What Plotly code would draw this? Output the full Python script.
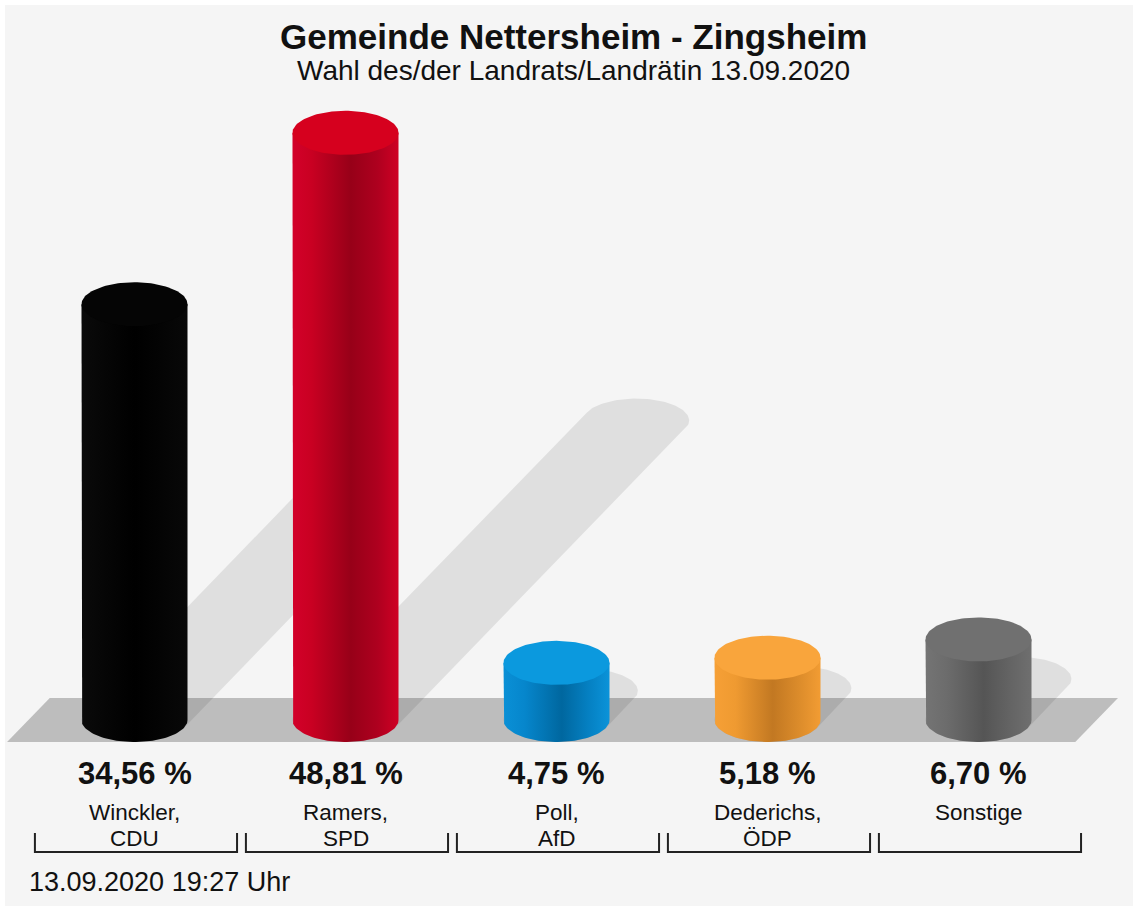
import numpy as np
import plotly.graph_objects as go

# ---------------- data ----------------
CANDIDATES = ["Winckler,", "Ramers,", "Poll,", "Dederichs,", "Sonstige"]
PARTIES = ["CDU", "SPD", "AfD", "ÖDP", ""]
VALUES = [34.56, 48.81, 4.75, 5.18, 6.70]
TITLE = "Gemeinde Nettersheim - Zingsheim"
SUBTITLE = "Wahl des/der Landrats/Landrätin 13.09.2020"
TIMESTAMP = "13.09.2020 19:27 Uhr"

# ---------------- styles ----------------
TOP_COLORS = ["#050505", "#d6001e", "#0b99de", "#f9a53c", "#707070"]
BODY_SCALES = [
    [[0, "#0a0a0a"], [0.5, "#000000"], [1, "#080808"]],
    [[0, "#d3002a"], [0.18, "#c90022"], [0.55, "#970018"], [0.8, "#ae001f"], [1, "#cf0024"]],
    [[0, "#0a90d6"], [0.2, "#0686cc"], [0.55, "#00679f"], [0.8, "#0580c2"], [1, "#0b93d9"]],
    [[0, "#f6a036"], [0.2, "#ef9a31"], [0.55, "#c27822"], [0.8, "#dc8c2b"], [1, "#f29c33"]],
    [[0, "#747474"], [0.2, "#6c6c6c"], [0.55, "#555555"], [0.8, "#646464"], [1, "#6f6f6f"]],
]
BG = "#f5f5f5"
FLOOR = "#bdbdbd"
SHADOW = "rgba(0,0,0,0.085)"
TEXT = "#111111"
FONT = "Liberation Sans, Arial, Helvetica, sans-serif"

# ---------------- geometry (pixel calibration) ----------------
W, H = 1133, 906
PX_X0, PX_STEP = 134.5, 211.0      # pixel x of first category, spacing
PX_BASE, PX_PER_PCT = 720.0, 12.03  # pixel y of 0 %, pixels per percent
x_range = [-PX_X0 / PX_STEP, (W - PX_X0) / PX_STEP]
y_range = [-(H - PX_BASE) / PX_PER_PCT, PX_BASE / PX_PER_PCT]

RX = 53.0 / PX_STEP
RY = 22.0 / PX_PER_PCT
SH_DX = 0.495 * PX_PER_PCT / PX_STEP  # shadow x shift per percent
SH_DY = 0.51                           # shadow y shift per percent


def ellipse(cx, cy, t):
    return cx + RX * np.cos(t), cy + RY * np.sin(t)


def hull(px, py):
    pts = sorted(set(zip(np.round(px, 6), np.round(py, 6))))

    def cross(o, a, b):
        return (a[0] - o[0]) * (b[1] - o[1]) - (a[1] - o[1]) * (b[0] - o[0])

    lower, upper = [], []
    for p in pts:
        while len(lower) >= 2 and cross(lower[-2], lower[-1], p) <= 0:
            lower.pop()
        lower.append(p)
    for p in reversed(pts):
        while len(upper) >= 2 and cross(upper[-2], upper[-1], p) <= 0:
            upper.pop()
        upper.append(p)
    h = lower[:-1] + upper[:-1]
    h.append(h[0])
    return [p[0] for p in h], [p[1] for p in h]


fig = go.Figure()
n = len(VALUES)
xs = list(range(n))

# floor band (skewed like the shadows)
skew = RY * SH_DX / SH_DY
left_b = xs[0] - 0.604
right_t = xs[-1] + 0.661
fx = [left_b, left_b + 2 * skew, right_t, right_t - 2 * skew]
fy = [-RY, RY, RY, -RY]
fig.add_trace(go.Scatter(x=fx + [fx[0]], y=fy + [fy[0]], mode="lines", fill="toself",
                         fillcolor=FLOOR, line=dict(width=0), hoverinfo="skip",
                         showlegend=False))

# shadows
t_full = np.linspace(0, 2 * np.pi, 121)
for i, v in zip(xs, VALUES):
    bx, by = ellipse(i, 0, t_full)
    tx, ty = ellipse(i + SH_DX * v, SH_DY * v, t_full)
    hx, hy = hull(np.concatenate([bx, tx]), np.concatenate([by, ty]))
    fig.add_trace(go.Scatter(x=hx, y=hy, mode="lines", fill="toself",
                             fillcolor=SHADOW, line=dict(width=0),
                             hoverinfo="skip", showlegend=False))

# cylinders
t_low = np.linspace(np.pi, 2 * np.pi, 60)
for i, v, top_c, scale in zip(xs, VALUES, TOP_COLORS, BODY_SCALES):
    ex, ey = ellipse(i, 0, t_low)
    bx = [i - RX] + list(ex) + [i + RX, i - RX]
    by = [v] + list(ey) + [v, v]
    fig.add_trace(go.Scatter(x=bx, y=by, mode="lines", fill="toself",
                             fillgradient=dict(type="horizontal", colorscale=scale),
                             line=dict(width=0), hoverinfo="skip", showlegend=False))
    cx, cy = ellipse(i, v, t_full)
    fig.add_trace(go.Scatter(x=cx, y=cy, mode="lines", fill="toself",
                             fillcolor=top_c, line=dict(width=0),
                             hoverinfo="skip", showlegend=False))

# brackets
BR_TOP, BR_BOT = -9.39, -10.97
brx, bry = [], []
for i in xs:
    brx += [i - 0.472, i - 0.472, i + 0.486, i + 0.486, None]
    bry += [BR_TOP, BR_BOT, BR_BOT, BR_TOP, None]
fig.add_trace(go.Scatter(x=brx, y=bry, mode="lines", line=dict(color="#222222", width=2),
                         hoverinfo="skip", showlegend=False))

annotations = []
for i, v, cand, party in zip(xs, VALUES, CANDIDATES, PARTIES):
    label = f"{v:.2f}".replace(".", ",") + " %"
    annotations.append(dict(x=i, y=-4.41, text=f"<b>{label}</b>", showarrow=False,
                            xanchor="center", yanchor="middle",
                            font=dict(size=31, color=TEXT, family=FONT)))
    annotations.append(dict(x=i, y=-7.73, text=cand, showarrow=False,
                            xanchor="center", yanchor="middle",
                            font=dict(size=22.5, color=TEXT, family=FONT)))
    if party:
        annotations.append(dict(x=i, y=-9.81, text=party, showarrow=False,
                                xanchor="center", yanchor="middle",
                                font=dict(size=22.5, color=TEXT, family=FONT)))


def px_paper(px, py):
    return px / W, 1 - py / H


tx0, ty0 = px_paper(573, 37)
annotations.append(dict(xref="paper", yref="paper", x=tx0, y=ty0,
                        xanchor="center", yanchor="middle",
                        text=f"<b>{TITLE}</b>", showarrow=False,
                        font=dict(size=35, color=TEXT, family=FONT)))
sx0, sy0 = px_paper(573, 71)
annotations.append(dict(xref="paper", yref="paper", x=sx0, y=sy0,
                        xanchor="center", yanchor="middle",
                        text=SUBTITLE, showarrow=False,
                        font=dict(size=28, color=TEXT, family=FONT)))
dx0, dy0 = px_paper(27, 882)
annotations.append(dict(xref="paper", yref="paper", x=dx0, y=dy0,
                        xanchor="left", yanchor="middle", text=TIMESTAMP, showarrow=False,
                        font=dict(size=27, color=TEXT, family=FONT)))

fig.update_layout(
    width=W, height=H,
    margin=dict(l=0, r=0, t=0, b=0),
    paper_bgcolor=BG,
    plot_bgcolor="rgba(0,0,0,0)",
    xaxis=dict(range=x_range, visible=False, fixedrange=True),
    yaxis=dict(range=y_range, visible=False, fixedrange=True),
    shapes=[
        dict(type="rect", xref="paper", yref="paper", x0=0, x1=1, y0=1 - 5 / H, y1=1,
             fillcolor="white", line=dict(width=0), layer="below"),
        dict(type="rect", xref="paper", yref="paper", x0=0, x1=5 / W, y0=0, y1=1,
             fillcolor="white", line=dict(width=0), layer="below"),
    ],
    annotations=annotations,
)

fig.write_html(
    "out.html",
    config={"displayModeBar": False, "staticPlot": True},
    post_script=("document.documentElement.style.overflow='hidden';"
                 "document.body.style.margin='0';"
                 "document.body.style.overflow='hidden';"),
)
